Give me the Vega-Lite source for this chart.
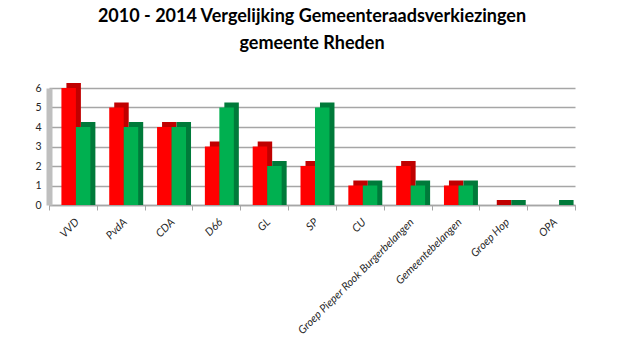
{
  "$schema": "https://vega.github.io/schema/vega-lite/v6.json",
  "autosize": {"type": "none"},
  "width": 526,
  "height": 117,
  "padding": {"left": 49, "top": 88, "right": 45, "bottom": 147},
  "background": "white",
  "title": {
    "text": ["2010 - 2014 Vergelijking Gemeenteraadsverkiezingen", "gemeente Rheden"],
    "font": "Lato",
    "fontSize": 18,
    "fontWeight": "bold",
    "color": "#000000",
    "anchor": "middle",
    "lineHeight": 27,
    "offset": 30
  },
  "data": {
    "values": [
      {"partij": "VVD", "jaar": "2010", "zetels": 6},
      {"partij": "VVD", "jaar": "2014", "zetels": 4},
      {"partij": "PvdA", "jaar": "2010", "zetels": 5},
      {"partij": "PvdA", "jaar": "2014", "zetels": 4},
      {"partij": "CDA", "jaar": "2010", "zetels": 4},
      {"partij": "CDA", "jaar": "2014", "zetels": 4},
      {"partij": "D66", "jaar": "2010", "zetels": 3},
      {"partij": "D66", "jaar": "2014", "zetels": 5},
      {"partij": "GL", "jaar": "2010", "zetels": 3},
      {"partij": "GL", "jaar": "2014", "zetels": 2},
      {"partij": "SP", "jaar": "2010", "zetels": 2},
      {"partij": "SP", "jaar": "2014", "zetels": 5},
      {"partij": "CU", "jaar": "2010", "zetels": 1},
      {"partij": "CU", "jaar": "2014", "zetels": 1},
      {"partij": "Groep Pieper Rook Burgerbelangen", "jaar": "2010", "zetels": 2},
      {"partij": "Groep Pieper Rook Burgerbelangen", "jaar": "2014", "zetels": 1},
      {"partij": "Gemeentebelangen", "jaar": "2010", "zetels": 1},
      {"partij": "Gemeentebelangen", "jaar": "2014", "zetels": 1},
      {"partij": "Groep Hop", "jaar": "2010", "zetels": 0},
      {"partij": "Groep Hop", "jaar": "2014", "zetels": 0},
      {"partij": "OPA", "jaar": "2010", "zetels": null},
      {"partij": "OPA", "jaar": "2014", "zetels": 0}
    ]
  },
  "encoding": {
    "x": {
      "field": "partij",
      "type": "nominal",
      "sort": null,
      "scale": {"paddingInner": 0, "paddingOuter": 0},
      "axis": {
        "title": null,
        "labelAngle": -45,
        "labelFont": "Lato",
        "labelFontStyle": "italic",
        "labelFontSize": 11,
        "labelColor": "#262626",
        "labelPadding": 6,
        "tickBand": "extent",
        "tickColor": "#A6A6A6",
        "tickSize": 5,
        "domainColor": "#A6A6A6",
        "domainWidth": 1.5
      }
    },
    "y": {
      "field": "zetels",
      "type": "quantitative",
      "stack": null,
      "scale": {"domain": [0, 6], "nice": false},
      "axis": {
        "title": null,
        "values": [0, 1, 2, 3, 4, 5, 6],
        "labelFont": "Lato",
        "labelFontSize": 10.5,
        "labelColor": "#262626",
        "labelPadding": 8,
        "tickSize": 0,
        "gridColor": "#A6A6A6",
        "gridWidth": 1.5,
        "domainColor": "#BFBFBF",
        "domainWidth": 6
      }
    }
  },
  "layer": [
    {
      "mark": {"type": "bar", "yOffset": -5, "y2Offset": 0},
      "encoding": {
        "y2": {"datum": 0},
        "xOffset": {
          "field": "jaar",
          "type": "nominal",
          "scale": {"paddingOuter": 0.65, "paddingInner": 0, "range": [8, 55.8]}
        },
        "color": {
          "field": "jaar",
          "type": "nominal",
          "scale": {"domain": ["2010", "2014"], "range": ["#C00000", "#007A3A"]},
          "legend": null
        }
      }
    },
    {
      "mark": {"type": "bar"},
      "encoding": {
        "xOffset": {
          "field": "jaar",
          "type": "nominal",
          "scale": {"paddingOuter": 0.65, "paddingInner": 0, "range": [3, 50.8]}
        },
        "color": {
          "field": "jaar",
          "type": "nominal",
          "scale": {"domain": ["2010", "2014"], "range": ["#FF0000", "#00B050"]},
          "legend": null
        }
      }
    }
  ],
  "resolve": {"scale": {"color": "independent", "xOffset": "independent"}},
  "config": {"view": {"stroke": null}}
}
